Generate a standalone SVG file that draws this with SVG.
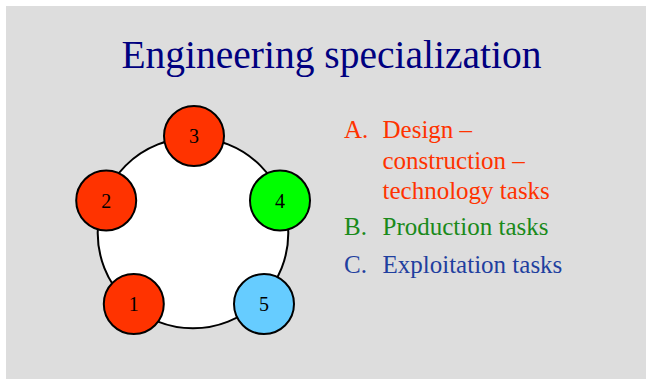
<svg xmlns="http://www.w3.org/2000/svg" width="652" height="379" viewBox="0 0 652 379">
<style>
.node{stroke:#000;stroke-width:2}
.num{font-family:"Liberation Serif","Times New Roman",serif;font-size:20px;fill:#000;text-anchor:middle}
.item{font-family:"Liberation Serif","Times New Roman",serif;font-size:25px}
.red{fill:#FF3300}
.green{fill:#1A8A1A}
.blue{fill:#1F3F9F}
</style>
<rect x="0" y="0" width="652" height="379" fill="#FFFFFF"/>
<rect x="6" y="6" width="640" height="373" fill="#DDDDDD"/>
<text x="331.5" y="68" font-family="'Liberation Serif','Times New Roman',serif" font-size="39.5" fill="#000080" text-anchor="middle">Engineering specialization</text>
<g id="ring">
<circle cx="193" cy="233" r="95.3" fill="#FFFFFF" stroke="#000" stroke-width="2"/>
</g>
<g id="connectors"></g>
<g id="node3"><circle class="node" cx="194" cy="136" r="30" fill="#FF3300"/><text class="num" x="194" y="143">3</text></g>
<g id="node2"><circle class="node" cx="106.2" cy="200.5" r="30" fill="#FF3300"/><text class="num" x="106.2" y="207.5">2</text></g>
<g id="node4"><circle class="node" cx="280" cy="200.5" r="30" fill="#00FF00"/><text class="num" x="280" y="207.5">4</text></g>
<g id="node1"><circle class="node" cx="133.8" cy="304" r="30" fill="#FF3300"/><text class="num" x="133.8" y="311">1</text></g>
<g id="node5"><circle class="node" cx="264" cy="304" r="30" fill="#66CCFF"/><text class="num" x="264" y="311">5</text></g>
<g id="list">
<text class="item red" x="344" y="138">A.</text>
<text class="item red" x="382.5" y="138">Design –</text>
<text class="item red" x="382.5" y="169">construction –</text>
<text class="item red" x="382.5" y="199">technology tasks</text>
<text class="item green" x="344" y="235">B.</text>
<text class="item green" x="382.5" y="235">Production tasks</text>
<text class="item blue" x="344" y="273">C.</text>
<text class="item blue" x="382.5" y="273">Exploitation tasks</text>
</g>
</svg>
